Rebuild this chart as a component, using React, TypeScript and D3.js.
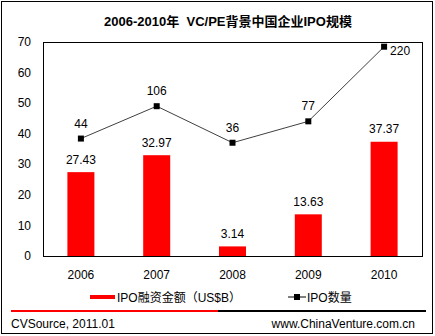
import React from "react";
import * as d3 from "d3";

const years = ["2006", "2007", "2008", "2009", "2010"];
const amounts = [27.43, 32.97, 3.14, 13.63, 37.37];
const counts = [44, 106, 36, 77, 220];
const leftTicks = [0, 10, 20, 30, 40, 50, 60, 70];
const rightDomain = [-181, 229];

const W = 435;
const H = 336;
const FONT = "Arial, 'Liberation Sans', 'Noto Sans CJK SC', sans-serif";

export default function App() {
  const plot = { left: 43, right: 422, top: 42, bottom: 256 };
  const x = d3.scaleBand().domain(years).range([plot.left, plot.right]).paddingInner(0).paddingOuter(0);
  const y = d3.scaleLinear().domain([0, 70]).range([plot.bottom, plot.top]);
  const y2 = d3.scaleLinear().domain(rightDomain).range([plot.bottom, plot.top]);
  const barW = 27;
  const cx = (d: string) => (x(d) as number) + x.bandwidth() / 2;
  const line = d3
    .line<number>()
    .x((_, i) => cx(years[i]))
    .y((d) => y2(d));

  return (
    <div style={{ position: "fixed", left: 0, top: 0 }}>
      <svg width={W} height={H} style={{ display: "block", fontFamily: FONT }}>
        <rect x={0} y={0} width={W} height={H} fill="#fff" />
        <rect x={1.5} y={1.5} width={431} height={332} fill="none" stroke="#000" strokeWidth={1} />
        <text
          x={228}
          y={26}
          textAnchor="middle"
          fontSize={13}
          fontWeight="bold"
          fill="#000"
          style={{ whiteSpace: "pre" }}
        >
          {"2006-2010年  VC/PE背景中国企业IPO规模"}
        </text>
        {/* plot frame */}
        <rect
          x={plot.left + 0.5}
          y={plot.top + 0.5}
          width={plot.right - plot.left}
          height={plot.bottom - plot.top}
          fill="#fff"
          stroke="#000"
          strokeWidth={1}
        />
        {leftTicks.map((t) => (
          <text key={t} x={31} y={y(t)} dy="0.35em" textAnchor="end" fontSize={12} fill="#000">
            {t}
          </text>
        ))}
        {years.map((yr, i) => (
          <g key={yr}>
            <rect
              x={cx(yr) - barW / 2}
              y={y(amounts[i])}
              width={barW}
              height={plot.bottom - y(amounts[i])}
              fill="#ff0000"
            />
            <text x={cx(yr)} y={y(amounts[i]) - 8.5} textAnchor="middle" fontSize={12} fill="#000">
              {amounts[i].toFixed(2)}
            </text>
            <text x={cx(yr)} y={279} textAnchor="middle" fontSize={12} fill="#000">
              {yr}
            </text>
          </g>
        ))}
        <path d={line(counts) || ""} fill="none" stroke="#404040" strokeWidth={1} />
        {counts.map((c, i) => {
          const px = cx(years[i]);
          const py = y2(c);
          const last = i === counts.length - 1;
          return (
            <g key={i}>
              <rect x={px - 3} y={py - 3} width={6} height={6} fill="#000" />
              <text
                x={last ? px + 6 : px}
                y={last ? py + 8 : py - 11}
                textAnchor={last ? "start" : "middle"}
                fontSize={12}
                fill="#000"
              >
                {c}
              </text>
            </g>
          );
        })}
        {/* legend */}
        <rect x={90} y={295} width={25} height={4} fill="#ff0000" />
        <text x={117} y={301.5} fontSize={12} fill="#000">
          IPO融资金额（US$B）
        </text>
        <line x1={288} x2={306} y1={297} y2={297} stroke="#000" strokeWidth={1} />
        <rect x={294} y={294} width={6} height={6} fill="#000" />
        <text x={307} y={301.5} fontSize={12} fill="#000">
          IPO数量
        </text>
        {/* footer */}
        <line x1={11} x2={218} y1={311} y2={311} stroke="#ff0000" strokeWidth={2} />
        <line x1={218} x2={426} y1={311} y2={311} stroke="#000" strokeWidth={2} />
        <text x={11} y={328} fontSize={12} fill="#000">
          CVSource, 2011.01
        </text>
        <text x={415} y={328} textAnchor="end" fontSize={12} fill="#000">
          www.ChinaVenture.com.cn
        </text>
      </svg>
    </div>
  );
}
